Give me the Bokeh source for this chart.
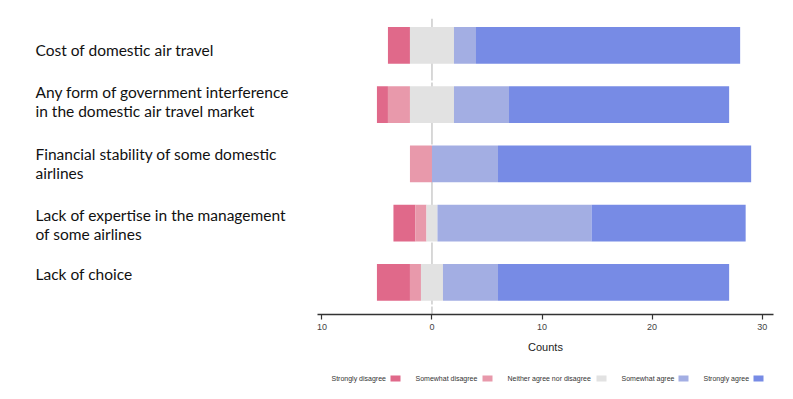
from bokeh.plotting import figure
from bokeh.models import Span, ColumnDataSource, Range1d
from bokeh.layouts import column, row
from bokeh.embed import file_html
from bokeh.resources import INLINE
from bokeh.core.properties import value

# ---------------- data ----------------
categories = [
    "Cost of domestic air travel",
    "Any form of government interference\nin the domestic air travel market",
    "Financial stability of some domestic\nairlines",
    "Lack of expertise in the management\nof some airlines",
    "Lack of choice",
]
strongly_disagree = [2, 1, 0, 2, 3]
somewhat_disagree = [0, 2, 2, 1, 1]
neutral = [4, 4, 0, 1, 2]
somewhat_agree = [2, 5, 6, 14, 5]
strongly_agree = [24, 20, 23, 14, 21]

levels = ["Strongly disagree", "Somewhat disagree", "Neither agree nor disagree",
          "Somewhat agree", "Strongly agree"]
colors = ["#E0698A", "#E899AB", "#E2E2E2", "#A3AEE3", "#778BE5"]
x_ticks = [-10, 0, 10, 20, 30]
x_tick_labels = ["10", "0", "10", "20", "30"]

# ---------------- layout constants ----------------
FIG_H = 362
TOP = 18
BOTTOM = 48
n = len(categories)
ypos = [n - i for i in range(n)]  # top row highest
y_range = Range1d(0.459, 5.455)

# ---------------- chart ----------------
p = figure(width=477, height=FIG_H, x_range=(-10.4, 31.03), y_range=y_range,
           output_backend="svg", toolbar_location=None,
           min_border_left=9, min_border_right=12, min_border_top=TOP,
           min_border_bottom=BOTTOM, y_axis_type=None)
p.outline_line_color = None
p.xgrid.visible = False
p.ygrid.visible = False
p.background_fill_color = "white"

zero = Span(location=0, dimension="height", line_color="#c4c4c4",
            line_width=1.3, line_dash="30 2", level="underlay")
p.add_layout(zero)

series = [strongly_disagree, somewhat_disagree, neutral, somewhat_agree, strongly_agree]
starts = [-(sd + swd + ne / 2) for sd, swd, ne in zip(strongly_disagree, somewhat_disagree, neutral)]
cur = list(starts)
for vals, col in zip(series, colors):
    left = list(cur)
    right = [l + v for l, v in zip(left, vals)]
    src = ColumnDataSource(dict(y=ypos, left=left, right=right))
    p.hbar(y="y", left="left", right="right", height=0.62, source=src,
           fill_color=col, line_color=None)
    cur = right

ax = p.xaxis[0]
ax.ticker = x_ticks
ax.major_label_overrides = {t: l for t, l in zip(x_ticks, x_tick_labels)}
ax.minor_tick_line_color = None
ax.major_tick_in = 0
ax.major_tick_out = 5
ax.axis_line_color = "#333333"
ax.axis_line_width = 1.3
ax.major_tick_line_color = "#333333"
ax.major_tick_line_width = 1.2
ax.major_label_text_font = "Liberation Sans"
ax.major_label_text_font_size = "9px"
ax.major_label_text_color = "#444444"
ax.major_label_standoff = 4
ax.axis_label = "Counts"
ax.axis_label_text_font = "Liberation Sans"
ax.axis_label_text_font_size = "11px"
ax.axis_label_text_font_style = "normal"
ax.axis_label_text_color = "#222222"
ax.axis_label_standoff = 8

# ---------------- category labels ----------------
lab = figure(width=308, height=FIG_H, x_range=(0, 308), y_range=y_range,
             output_backend="svg", toolbar_location=None,
             min_border_left=0, min_border_right=0, min_border_top=TOP,
             min_border_bottom=BOTTOM, x_axis_type=None, y_axis_type=None)
lab.outline_line_color = None
lab.xgrid.visible = False
lab.ygrid.visible = False
label_offsets = [5, -3, 0, 1, -8]
lab.text(x=[35] * n, y=ypos, text=categories, y_offset=label_offsets,
         text_font=value("Lato"), text_font_size="15.5px", text_color="#111111",
         text_align="left", text_baseline="middle", text_line_height=1.06)

# ---------------- legend ----------------
leg = figure(width=785, height=29, x_range=(0, 785), y_range=(0, 29),
             output_backend="svg", toolbar_location=None,
             min_border=0, x_axis_type=None, y_axis_type=None)
leg.outline_line_color = None
leg.xgrid.visible = False
leg.ygrid.visible = False
text_x = [331, 415, 507, 621, 703]
swatch_x = [395, 487, 601, 683, 758]
leg.text(x=text_x, y=[13] * 5, text=levels, text_font=value("Liberation Sans"),
         text_font_size="7px", text_color="#333333",
         text_align="left", text_baseline="middle")
leg.rect(x=swatch_x, y=[13] * 5, width=10, height=6, fill_color=colors, line_color=None)

layout = column(row(lab, p), leg)
open("out.html", "w").write(file_html(layout, INLINE))
